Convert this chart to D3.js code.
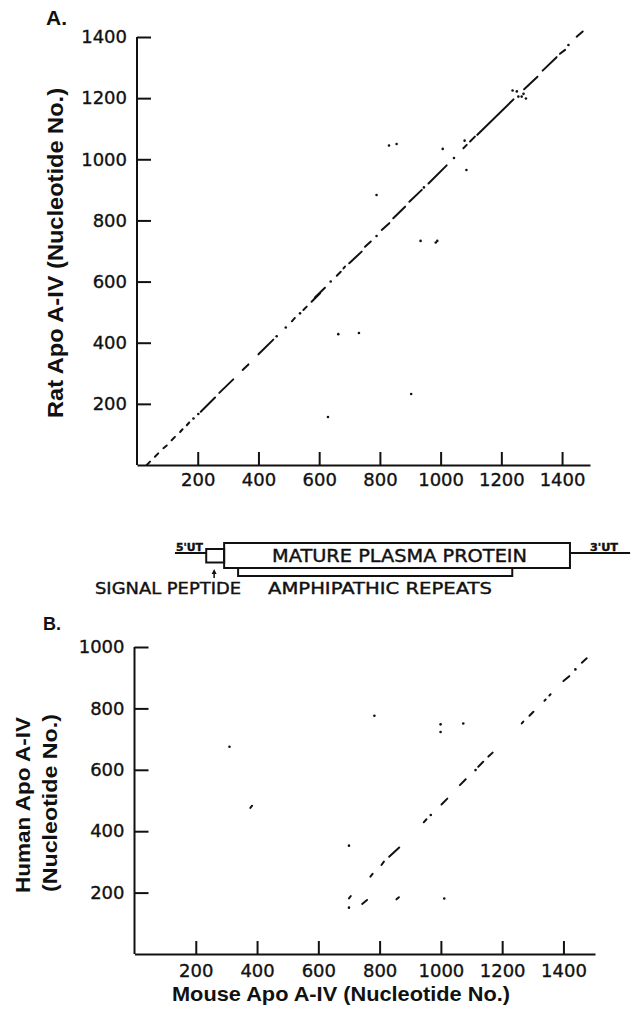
<!DOCTYPE html>
<head>
<meta charset="utf-8">
<style>
body {
  margin: 0;
  background: #fff;
}
svg {
  display: block;
}
.axis text {
  font: 18px "DejaVu Sans", sans-serif;
  fill: #111;
  stroke: #111;
  stroke-width: 0.35px;
}
.axis path, .axis line {
  stroke: #111;
  stroke-width: 2px;
}
.title {
  font-family: "Liberation Sans", Arial, sans-serif;
  font-weight: bold;
  fill: #111;
}
.gene text {
  font-family: "DejaVu Sans", sans-serif;
  fill: #111;
  stroke: #111;
  stroke-width: 0.4px;
}
.gene rect, .gene path, .gene line {
  fill: none;
  stroke: #111;
  stroke-width: 2px;
}
.seg {
  stroke: #111;
  stroke-width: 2px;
  stroke-linecap: round;
}
.dot {
  fill: #111;
}
</style>
</head>
<body>
<svg width="633" height="1010"></svg>
<script src="https://d3js.org/d3.v7.min.js"></script>

<script>

// ---- data (nucleotide numbers) ----
var ticksA = [200, 400, 600, 800, 1000, 1200, 1400];
var ticksBx = [200, 400, 600, 800, 1000, 1200, 1400];
var ticksBy = [200, 400, 600, 800, 1000];

// panel A: mouse (x) vs rat (y) matching runs, [x1, y1, x2, y2]
var segA = [
  [32, 0, 43, 11], [59, 27, 70, 38], [87, 55, 98, 64], [114, 81, 125, 92],
  [142, 108, 150, 117], [164, 130, 172, 139],
  [210, 174, 257, 221], [271, 236, 317, 280], [348, 311, 367, 329],
  [400, 362, 449, 410], [510, 470, 520, 481], [548, 507, 559, 518],
  [575, 534, 603, 562], [586, 548, 619, 580], [658, 619, 671, 632],
  [680, 643, 685, 649], [699, 660, 740, 698], [751, 714, 770, 731],
  [806, 769, 831, 791], [844, 807, 883, 845], [897, 861, 938, 900],
  [960, 921, 1020, 980], [1075, 1036, 1086, 1047], [1097, 1058, 1113, 1074],
  [1121, 1080, 1240, 1196], [1275, 1229, 1319, 1270], [1336, 1290, 1382, 1334],
  [1393, 1345, 1410, 1358], [1448, 1401, 1468, 1418]
];
var dotsA = [
  [186, 152], [202, 167], [460, 421], [490, 450], [537, 496],
  [638, 600], [789, 749], [945, 908], [1044, 1004], [1421, 1374],
  // off-diagonal
  [830, 1045], [855, 1050], [1007, 1034], [1079, 1061], [1085, 965],
  [789, 883], [934, 733], [984, 728], [989, 733],
  [663, 428], [731, 432], [903, 232], [629, 157],
  [1237, 1225], [1251, 1222], [1256, 1205], [1267, 1205], [1273, 1214], [1281, 1199]
];

// panel B: mouse (x) vs human (y)
var segB = [
  [700, 181, 706, 189], [743, 163, 759, 176], [855, 178, 863, 185],
  [770, 252, 777, 261], [806, 290, 814, 301], [831, 317, 864, 347],
  [944, 429, 953, 439], [1002, 487, 1021, 506], [1062, 550, 1081, 569],
  [1122, 610, 1138, 626], [1155, 643, 1169, 656], [1264, 751, 1269, 757],
  [1289, 776, 1302, 789], [1338, 825, 1342, 829], [1354, 842, 1358, 846],
  [1400, 889, 1419, 905], [1460, 949, 1476, 963],
  [378, 476, 384, 483]
];
var dotsB = [
  [700, 151], [700, 353], [1011, 181], [967, 453], [1113, 599], [1439, 927],
  [310, 675], [783, 776], [999, 748], [999, 723], [1073, 751]
];

// gene map, in nucleotide positions on the mouse axis
var utr5 = [125, 228];
var signalPeptide = [228, 287];
var mature = [287, 1426];
var utr3 = [1426, 1624];
var repeats = [333, 1236];
var signalArrow = 254;

// ---- scales ----
var svg = d3.select("svg");

var xA = d3.scaleLinear().domain([0, 1492]).range([137, 590]),
    yA = d3.scaleLinear().domain([0, 1400]).range([465, 37]);

var xB = d3.scaleLinear().domain([0, 1503]).range([134.5, 595]),
    yB = d3.scaleLinear().domain([0, 1000]).range([954, 647]);

function drawPanel(x, y, xt, yt, segs, dots, pad) {
  var g = svg.append("g");

  g.append("g")
      .attr("class", "axis")
      .attr("transform", "translate(0," + y(0) + ")")
      .call(d3.axisBottom(x).tickValues(xt).tickFormat(d3.format("d"))
        .tickSize(-13).tickSizeOuter(0).tickPadding(pad))
      .call(function(s) { s.selectAll("text").attr("dy", "0.73em"); });

  var yAxis = g.append("g")
      .attr("class", "axis")
      .attr("transform", "translate(" + x(0) + ",0)")
      .call(d3.axisLeft(y).tickValues(yt).tickFormat(d3.format("d"))
        .tickSize(-14).tickSizeOuter(0).tickPadding(10));
  yAxis.select(".domain").attr("d", "M0," + y(0) + "V" + y(yt[yt.length - 1]));

  g.selectAll(".seg")
    .data(segs)
    .enter().append("line")
      .attr("class", "seg")
      .attr("x1", function(d) { return x(d[0]); })
      .attr("y1", function(d) { return y(d[1]); })
      .attr("x2", function(d) { return x(d[2]); })
      .attr("y2", function(d) { return y(d[3]); });

  g.selectAll(".dot")
    .data(dots)
    .enter().append("circle")
      .attr("class", "dot")
      .attr("cx", function(d) { return x(d[0]); })
      .attr("cy", function(d) { return y(d[1]); })
      .attr("r", 1.3);
  return g;
}

drawPanel(xA, yA, ticksA, ticksA, segA, dotsA, 8);
drawPanel(xB, yB, ticksBx, ticksBy, segB, dotsB, 10);

// ---- titles ----
svg.append("text").attr("class", "title")
    .attr("x", 46).attr("y", 25).style("font-size", "21px").text("A.");
svg.append("text").attr("class", "title")
    .attr("x", 43).attr("y", 630).style("font-size", "18px").text("B.");

svg.append("text").attr("class", "title")
    .attr("transform", "translate(63,253) rotate(-90)")
    .attr("text-anchor", "middle")
    .attr("textLength", 330).attr("lengthAdjust", "spacingAndGlyphs")
    .style("font-size", "22px")
    .text("Rat Apo A-IV (Nucleotide No.)");

svg.append("text").attr("class", "title")
    .attr("transform", "translate(30,805) rotate(-90)")
    .attr("text-anchor", "middle")
    .attr("textLength", 176).attr("lengthAdjust", "spacingAndGlyphs")
    .style("font-size", "20px")
    .text("Human Apo A-IV");
svg.append("text").attr("class", "title")
    .attr("transform", "translate(57,803) rotate(-90)")
    .attr("text-anchor", "middle")
    .attr("textLength", 178).attr("lengthAdjust", "spacingAndGlyphs")
    .style("font-size", "20px")
    .text("(Nucleotide No.)");

svg.append("text").attr("class", "title")
    .attr("x", 341).attr("y", 1001)
    .attr("text-anchor", "middle")
    .attr("textLength", 338).attr("lengthAdjust", "spacingAndGlyphs")
    .style("font-size", "21px")
    .text("Mouse Apo A-IV (Nucleotide No.)");

// ---- gene map ----
var gene = svg.append("g").attr("class", "gene");
var lineY = 553;

gene.append("line")
    .attr("x1", xA(utr5[0])).attr("x2", xA(utr5[1]))
    .attr("y1", lineY).attr("y2", lineY);
gene.append("line")
    .attr("x1", xA(utr3[0])).attr("x2", xA(utr3[1]))
    .attr("y1", lineY).attr("y2", lineY);
gene.append("rect")
    .attr("x", xA(signalPeptide[0])).attr("y", 549)
    .attr("width", xA(signalPeptide[1]) - xA(signalPeptide[0])).attr("height", 13.5);
gene.append("rect")
    .attr("x", xA(mature[0])).attr("y", 543)
    .attr("width", xA(mature[1]) - xA(mature[0])).attr("height", 25);
gene.append("path")
    .attr("d", "M" + xA(repeats[0]) + ",568V576H" + xA(repeats[1]) + "V568");

gene.append("line")
    .attr("x1", xA(signalArrow)).attr("x2", xA(signalArrow))
    .attr("y1", 572).attr("y2", 578)
    .style("stroke-width", "1.5px");
gene.append("path")
    .attr("d", "M" + (xA(signalArrow) - 2.5) + ",574L" + xA(signalArrow) + ",569L" + (xA(signalArrow) + 2.5) + ",574Z")
    .style("fill", "#111").style("stroke", "none");

gene.append("text")
    .attr("x", xA(utr5[0]) + 1).attr("y", 551)
    .attr("textLength", 27).attr("lengthAdjust", "spacingAndGlyphs")
    .style("font-size", "10px").style("font-weight", "bold")
    .text("5'UT");
gene.append("text")
    .attr("x", xA(utr3[0]) + 20).attr("y", 551)
    .attr("textLength", 28).attr("lengthAdjust", "spacingAndGlyphs")
    .style("font-size", "10px").style("font-weight", "bold")
    .text("3'UT");
gene.append("text")
    .attr("x", 272).attr("y", 562)
    .attr("textLength", 255).attr("lengthAdjust", "spacingAndGlyphs")
    .style("font-size", "17px")
    .text("MATURE PLASMA PROTEIN");
gene.append("text")
    .attr("x", 95).attr("y", 594)
    .attr("textLength", 146).attr("lengthAdjust", "spacingAndGlyphs")
    .style("font-size", "16px")
    .text("SIGNAL PEPTIDE");
gene.append("text")
    .attr("x", 268).attr("y", 594)
    .attr("textLength", 224).attr("lengthAdjust", "spacingAndGlyphs")
    .style("font-size", "16px")
    .text("AMPHIPATHIC REPEATS");

</script>
</body>
